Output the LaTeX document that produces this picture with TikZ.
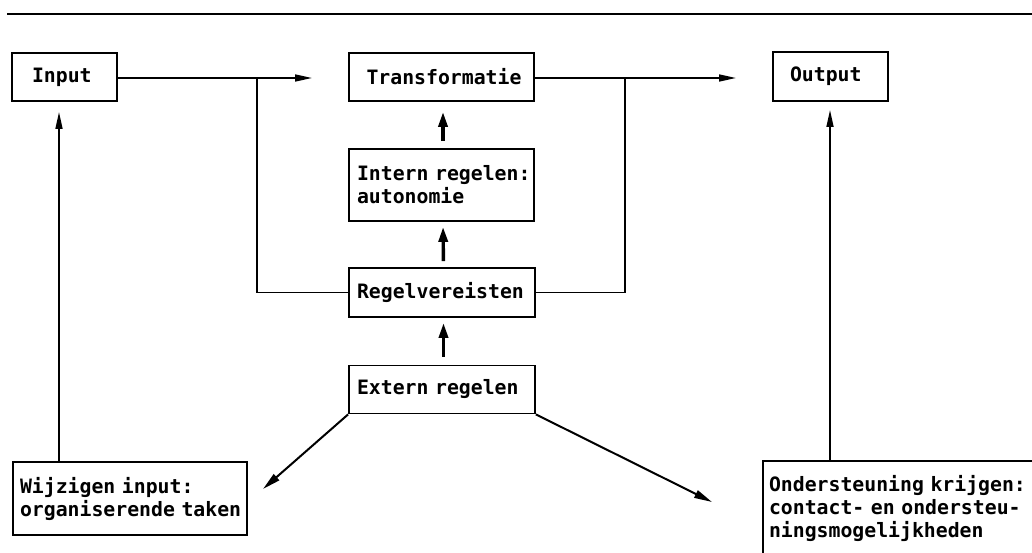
\documentclass[tikz,border=0pt]{standalone}
\usepackage{fontspec}
\setmonofont{DejaVu Sans Mono}
\usetikzlibrary{arrows.meta}
\begin{document}
\begin{tikzpicture}[x=1pt,y=-1pt,
  box/.style={draw, line width=1.8pt, rectangle, inner xsep=0pt, inner ysep=0pt,
    align=left, font=\fontsize{19.8}{23}\selectfont\ttfamily\bfseries},
  thinline/.style={line width=1.6pt},
  arr/.style={thinline, -{Triangle[length=17pt,width=7pt]}},
  diagarr/.style={line width=2pt, -{Triangle[length=18pt,width=8pt]}},
  bigarr/.style={line width=3.4pt, -{Triangle[length=15pt,width=9pt]}},
]
\clip (0,0) rectangle (1032,553);
\fill[white] (0,0) rectangle (1032,553);
\draw[line width=2.2pt] (7,14) -- (1040,14);

\node[box, minimum width=105pt, minimum height=48pt, text width=65pt] (input) at (64.5,77) {\mbox{Input}};
\node[box, minimum width=185pt, minimum height=48pt, text width=150pt] (trans) at (441.5,77) {\mbox{Transformatie}};
\node[box, minimum width=115pt, minimum height=49pt, text width=81pt] (output) at (830.5,76.5) {\mbox{Output}};
\node[box, minimum width=185pt, minimum height=72pt, text width=169pt] (intern) at (441.5,185) {\mbox{Intern regelen:}\\\mbox{autonomie}};
\node[box, minimum width=186pt, minimum height=49pt, text width=170pt] (regel) at (442,292.5) {\mbox{Regelvereisten}};
\node[box, minimum width=186pt, minimum height=48pt, text width=170pt] (extern) at (442,389.5) {\mbox{Extern regelen}};
\node[box, minimum width=234pt, minimum height=73pt, text width=220pt] (wijz) at (130,498.5) {\mbox{Wijzigen input:}\\\mbox{organiserende taken}};
\node[box, minimum width=280pt, minimum height=95pt, text width=268pt] (onder) at (903,508.5) {\mbox{Ondersteuning krijgen:}\\\mbox{contact- en ondersteu-}\\\mbox{ningsmogelijkheden}};

% top flow
\coordinate (t1) at (312,78);
\coordinate (b1) at (257,78);
\draw[arr] (input.east |- t1) -- (t1);
\draw[thinline] (b1) |- (regel.west);
\coordinate (t2) at (736,78);
\coordinate (b2) at (625,78);
\draw[arr] (trans.east |- t2) -- (t2);
\draw[thinline] (b2) |- (regel.east);

% up arrows
\coordinate (inTip) at (59,112);
\draw[arr] (wijz.north -| inTip) -- (inTip);
\coordinate (outTip) at (830,110);
\draw[arr] (onder.north -| outTip) -- (outTip);

% thick arrows
\draw[bigarr, shorten <=7pt, shorten >=10pt] ([xshift=1.5pt]intern.north) -- ([xshift=1.5pt]trans.south);
\draw[bigarr, shorten <=6pt, shorten >=5pt] ([xshift=1.5pt]regel.north) -- ([xshift=1.5pt]intern.south);
\draw[bigarr, shorten <=8pt, shorten >=5pt] ([xshift=1.5pt]extern.north) -- ([xshift=1.5pt]regel.south);

% diagonal arrows
\coordinate (dl) at (263,489);
\coordinate (dr) at (712,502);
\draw[diagarr] (extern.south west) -- (dl);
\draw[diagarr] (extern.south east) -- (dr);
\end{tikzpicture}
\end{document}
